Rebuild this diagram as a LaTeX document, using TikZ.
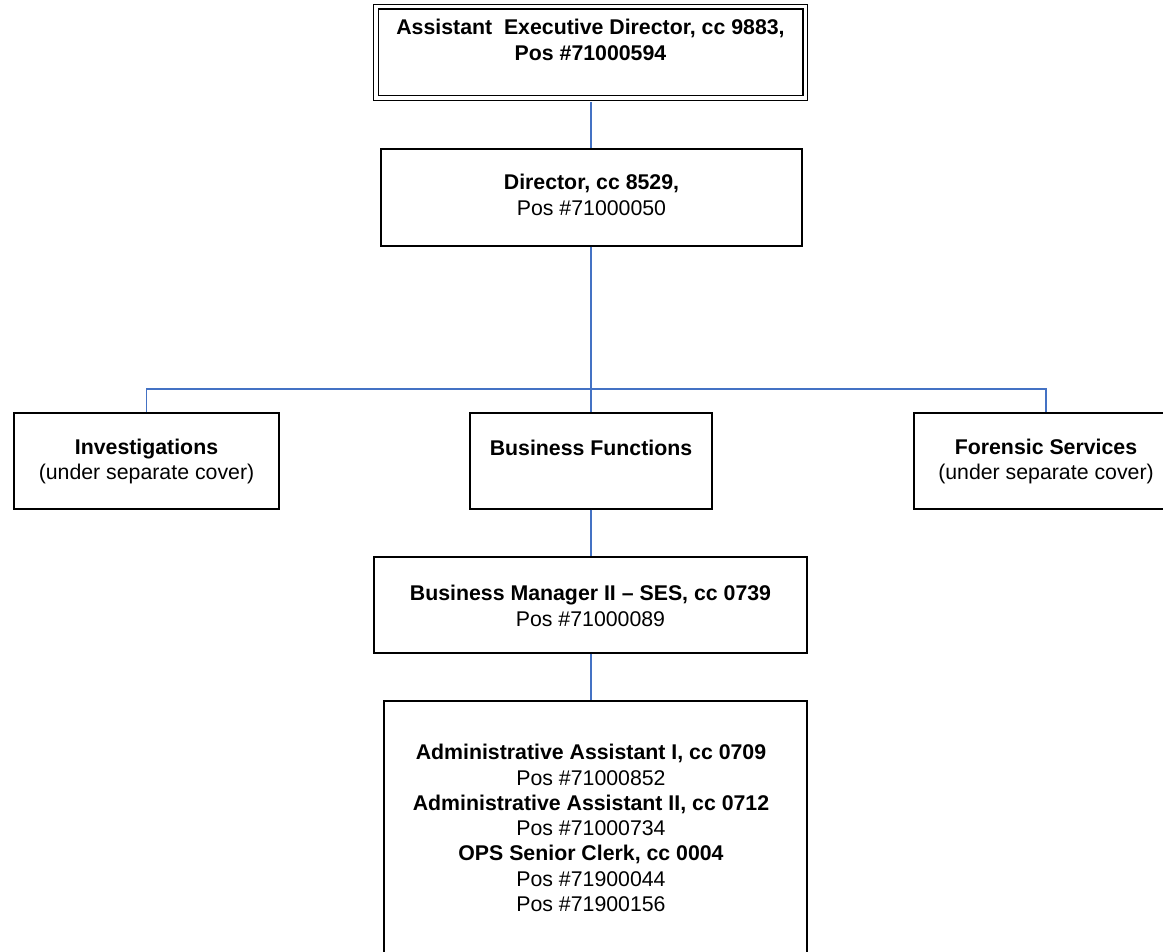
\documentclass[tikz,border=0pt]{standalone}
\usepackage{fontspec}
\setmainfont{Liberation Sans}
\definecolor{linkblue}{RGB}{68,114,196}
\begin{document}
\begin{tikzpicture}[x=1pt,y=-1pt,
  box/.style={draw=black,line width=1.3pt,fill=white,inner sep=0pt,rectangle},
  label/.style={align=center,inner sep=0pt,font=\fontsize{21.3}{25.3}\selectfont},
  conn/.style={draw=linkblue,line width=1.4pt}]
\useasboundingbox (0,0) rectangle (1163,952);
\clip (0,0) rectangle (1163,952);

% boxes
\node[box,double,double distance=3.3pt,line width=1.3pt,minimum width=429.3pt,minimum height=91.3pt] (aed) at (590.5,52.5) {};
\node[box,minimum width=421pt,minimum height=97pt] (dir) at (591.5,197.5) {};
\node[box,minimum width=265pt,minimum height=96pt] (inv) at (146.5,461) {};
\node[box,minimum width=242pt,minimum height=96pt] (bf) at (591,461) {};
\node[box,minimum width=264pt,minimum height=96pt] (for) at (1046,461) {};
\node[box,minimum width=433pt,minimum height=96pt] (bm) at (590.5,605) {};
\node[box,minimum width=423pt,minimum height=298pt] (adm) at (595.5,850) {};

% connectors
\coordinate (bar) at (591,389);
\draw[conn] ([yshift=-3.5pt]aed.south -| bar) -- (dir.north -| bar);
\draw[conn] (dir.south -| bar) -- (bar);
\draw[conn] (bar) -| (inv.north);
\draw[conn] (bar) -| (for.north);
\draw[conn] (bar) -- (bf.north -| bar);
\draw[conn] (bf.south) -- (bm.north -| bf.south);
\draw[conn] (bm.south -| bf.south) -- (adm.north -| bf.south);

% texts
\node[label] (aedtxt) at (590.5,40) {\textbf{Assistant\ \ Executive Director, cc 9883,}\\\textbf{Pos \#71000594}};
\node[label] (dirtxt) at (591.5,195) {\textbf{Director, cc 8529,}\\Pos \#71000050};
\node[label] (invtxt) at (146.5,461.5) {\textbf{Investigations}\\(under separate cover)};
\node[label] (bftxt) at (591,448) {\textbf{Business Functions}};
\node[label] (fortxt) at (1046,461.5) {\textbf{Forensic Services}\\(under separate cover)};
\node[label] (bmtxt) at (590.5,606) {\textbf{Business Manager II – SES, cc 0739}\\Pos \#71000089};
\node[label] (admtxt) at (591,828) {\textbf{Administrative Assistant I, cc 0709}\\Pos \#71000852\\\textbf{Administrative Assistant II, cc 0712}\\Pos \#71000734\\\textbf{OPS Senior Clerk, cc 0004}\\Pos \#71900044\\Pos \#71900156};
\end{tikzpicture}
\end{document}
